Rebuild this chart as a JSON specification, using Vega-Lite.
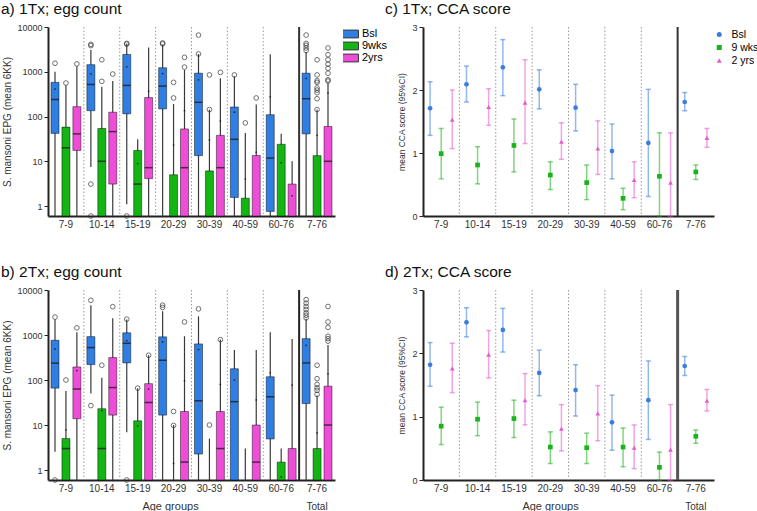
{
"$schema": "https://vega.github.io/schema/vega-lite/v6.json",
"padding": {"left": 1, "top": 1, "right": 0, "bottom": 0},
"autosize": {"type": "pad"},
"columns": 2,
"bounds": "flush",
"spacing": {"row": 74, "column": 88},
"resolve": {"scale": {"color": "independent", "shape": "independent", "xOffset": "independent"}},
"config": {
  "font": "Liberation Sans",
  "view": {"stroke": null},
  "axis": {"grid": false, "domainColor": "#222", "domainWidth": 2, "tickColor": "#222", "labelColor": "#333", "titleColor": "#333", "titleFontWeight": "normal"},
  "title": {"fontSize": 15.5, "fontWeight": "normal", "anchor": "start", "color": "#111"}
},
"datasets": {
  "sepD": [{"g":"10-14"},{"g":"15-19"},{"g":"20-29"},{"g":"30-39"},{"g":"40-59"},{"g":"60-76"}],
  "sepS": [{"g":"7-76"}],
  "boxA": [
    {"g":"7-9","s":"Bsl","lo":0.6,"q1":42,"med":240,"q3":580,"hi":1000,"mean":410},
    {"g":"7-9","s":"9wks","lo":0.6,"q1":0.6,"med":20,"q3":58,"hi":500,"mean":null},
    {"g":"7-9","s":"2yrs","lo":0.6,"q1":17.5,"med":41,"q3":166,"hi":1320,"mean":null},
    {"g":"10-14","s":"Bsl","lo":7.5,"q1":135,"med":520,"q3":1440,"hi":3080,"mean":900},
    {"g":"10-14","s":"9wks","lo":0.6,"q1":0.6,"med":10,"q3":54,"hi":465,"mean":null},
    {"g":"10-14","s":"2yrs","lo":0.6,"q1":3.1,"med":46,"q3":125,"hi":620,"mean":null},
    {"g":"15-19","s":"Bsl","lo":1.1,"q1":115,"med":495,"q3":2440,"hi":4260,"mean":1290},
    {"g":"15-19","s":"9wks","lo":0.6,"q1":0.6,"med":3.1,"q3":17.5,"hi":31,"mean":8.9},
    {"g":"15-19","s":"2yrs","lo":0.6,"q1":4.1,"med":7.2,"q3":265,"hi":3470,"mean":365},
    {"g":"20-29","s":"Bsl","lo":0.6,"q1":148,"med":480,"q3":1230,"hi":4000,"mean":910},
    {"g":"20-29","s":"9wks","lo":0.6,"q1":0.6,"med":null,"q3":5.0,"hi":190,"mean":23},
    {"g":"20-29","s":"2yrs","lo":0.6,"q1":0.6,"med":7.2,"q3":53,"hi":1100,"mean":135},
    {"g":"30-39","s":"Bsl","lo":0.6,"q1":13.4,"med":208,"q3":930,"hi":2500,"mean":660},
    {"g":"30-39","s":"9wks","lo":0.6,"q1":0.6,"med":null,"q3":6.1,"hi":143,"mean":30},
    {"g":"30-39","s":"2yrs","lo":0.6,"q1":0.6,"med":7.2,"q3":38,"hi":720,"mean":79},
    {"g":"40-59","s":"Bsl","lo":0.6,"q1":1.56,"med":31,"q3":163,"hi":790,"mean":125},
    {"g":"40-59","s":"9wks","lo":0.6,"q1":0.6,"med":null,"q3":1.5,"hi":43,"mean":4},
    {"g":"40-59","s":"2yrs","lo":0.6,"q1":0.6,"med":null,"q3":13.5,"hi":185,"mean":16},
    {"g":"60-76","s":"Bsl","lo":0.6,"q1":0.76,"med":11.8,"q3":110,"hi":2470,"mean":275},
    {"g":"60-76","s":"9wks","lo":0.6,"q1":0.6,"med":null,"q3":24,"hi":41,"mean":9.3},
    {"g":"60-76","s":"2yrs","lo":0.6,"q1":0.6,"med":null,"q3":3.1,"hi":10,"mean":1.7},
    {"g":"7-76","s":"Bsl","lo":0.6,"q1":41,"med":250,"q3":930,"hi":2780,"mean":710},
    {"g":"7-76","s":"9wks","lo":0.6,"q1":0.6,"med":null,"q3":13.4,"hi":143,"mean":38},
    {"g":"7-76","s":"2yrs","lo":0.6,"q1":0.6,"med":10,"q3":60,"hi":560,"mean":335}
  ],
  "outA": [
    {"g":"7-9","s":"Bsl","v":1550},{"g":"7-9","s":"9wks","v":560},{"g":"7-9","s":"2yrs","v":1500},
    {"g":"10-14","s":"Bsl","v":4100},{"g":"10-14","s":"Bsl","v":3840},{"g":"10-14","s":"Bsl","v":3.1},{"g":"10-14","s":"Bsl","v":0.6},
    {"g":"10-14","s":"9wks","v":610},{"g":"10-14","s":"9wks","v":1850},{"g":"10-14","s":"2yrs","v":890},
    {"g":"15-19","s":"Bsl","v":4300},{"g":"15-19","s":"Bsl","v":4150},{"g":"15-19","s":"Bsl","v":0.6},
    {"g":"20-29","s":"Bsl","v":4400},{"g":"20-29","s":"Bsl","v":4200},{"g":"20-29","s":"9wks","v":260},{"g":"20-29","s":"9wks","v":580},
    {"g":"20-29","s":"2yrs","v":1270},{"g":"20-29","s":"2yrs","v":2100},
    {"g":"30-39","s":"Bsl","v":2500},{"g":"30-39","s":"Bsl","v":6600},{"g":"30-39","s":"9wks","v":143},{"g":"30-39","s":"9wks","v":850},{"g":"30-39","s":"2yrs","v":970},
    {"g":"40-59","s":"Bsl","v":850},{"g":"40-59","s":"9wks","v":72},{"g":"40-59","s":"2yrs","v":260},
    {"g":"7-76","s":"Bsl","v":6600},{"g":"7-76","s":"Bsl","v":4300},{"g":"7-76","s":"Bsl","v":3900},{"g":"7-76","s":"Bsl","v":3400},{"g":"7-76","s":"Bsl","v":3000},
    {"g":"7-76","s":"9wks","v":143},{"g":"7-76","s":"9wks","v":250},{"g":"7-76","s":"9wks","v":340},{"g":"7-76","s":"9wks","v":390},{"g":"7-76","s":"9wks","v":435},{"g":"7-76","s":"9wks","v":580},{"g":"7-76","s":"9wks","v":630},{"g":"7-76","s":"9wks","v":850},{"g":"7-76","s":"9wks","v":1850},
    {"g":"7-76","s":"2yrs","v":660},{"g":"7-76","s":"2yrs","v":620},{"g":"7-76","s":"2yrs","v":930},{"g":"7-76","s":"2yrs","v":1200},{"g":"7-76","s":"2yrs","v":1480},{"g":"7-76","s":"2yrs","v":1850},{"g":"7-76","s":"2yrs","v":2400},{"g":"7-76","s":"2yrs","v":3400}
  ],
  "boxB": [
    {"g":"7-9","s":"Bsl","lo":2.55,"q1":66,"med":237,"q3":765,"hi":2200,"mean":490},
    {"g":"7-9","s":"9wks","lo":0.6,"q1":0.6,"med":3.0,"q3":5,"hi":57,"mean":7.8},
    {"g":"7-9","s":"2yrs","lo":0.6,"q1":13.8,"med":63,"q3":195,"hi":1150,"mean":162},
    {"g":"10-14","s":"Bsl","lo":50,"q1":220,"med":525,"q3":920,"hi":4600,"mean":null},
    {"g":"10-14","s":"9wks","lo":0.6,"q1":0.6,"med":3.0,"q3":23,"hi":112,"mean":21},
    {"g":"10-14","s":"2yrs","lo":0.6,"q1":16.6,"med":68,"q3":315,"hi":2350,"mean":null},
    {"g":"15-19","s":"Bsl","lo":6.9,"q1":240,"med":655,"q3":1120,"hi":2200,"mean":750},
    {"g":"15-19","s":"9wks","lo":0.6,"q1":0.6,"med":null,"q3":12.4,"hi":66,"mean":9.5},
    {"g":"15-19","s":"2yrs","lo":0.6,"q1":0.6,"med":31.7,"q3":83,"hi":355,"mean":63},
    {"g":"20-29","s":"Bsl","lo":0.6,"q1":16.6,"med":275,"q3":910,"hi":3380,"mean":700},
    {"g":"20-29","s":"9wks","lo":0.6,"q1":null,"med":null,"q3":null,"hi":10,"mean":1.4},
    {"g":"20-29","s":"2yrs","lo":0.6,"q1":0.6,"med":1.5,"q3":20,"hi":940,"mean":96},
    {"g":"30-39","s":"Bsl","lo":0.6,"q1":2.26,"med":34.6,"q3":635,"hi":2600,"mean":475},
    {"g":"30-39","s":"9wks","lo":0.6,"q1":null,"med":null,"q3":null,"hi":5,"mean":null},
    {"g":"30-39","s":"2yrs","lo":0.6,"q1":0.6,"med":3.0,"q3":20,"hi":790,"mean":80},
    {"g":"40-59","s":"Bsl","lo":0.6,"q1":0.6,"med":33,"q3":178,"hi":465,"mean":100},
    {"g":"40-59","s":"9wks","lo":0.6,"q1":null,"med":null,"q3":null,"hi":3,"mean":null},
    {"g":"40-59","s":"2yrs","lo":0.6,"q1":0.6,"med":1.5,"q3":10,"hi":465,"mean":36},
    {"g":"60-76","s":"Bsl","lo":0.6,"q1":4.9,"med":42.5,"q3":118,"hi":1150,"mean":145},
    {"g":"60-76","s":"9wks","lo":0.6,"q1":0.6,"med":null,"q3":1.5,"hi":3.0,"mean":0.7},
    {"g":"60-76","s":"2yrs","lo":0.6,"q1":0.6,"med":null,"q3":3.0,"hi":820,"mean":77},
    {"g":"7-76","s":"Bsl","lo":0.6,"q1":30,"med":240,"q3":830,"hi":2300,"mean":590},
    {"g":"7-76","s":"9wks","lo":0.6,"q1":0.6,"med":null,"q3":3,"hi":45,"mean":6.7},
    {"g":"7-76","s":"2yrs","lo":0.6,"q1":0.6,"med":10,"q3":73,"hi":600,"mean":137}
  ],
  "outB": [
    {"g":"7-9","s":"Bsl","v":2500},{"g":"7-9","s":"Bsl","v":0.6},{"g":"7-9","s":"9wks","v":100},{"g":"7-9","s":"2yrs","v":1440},
    {"g":"10-14","s":"Bsl","v":5900},{"g":"10-14","s":"Bsl","v":27},{"g":"10-14","s":"9wks","v":213},{"g":"10-14","s":"2yrs","v":4260},
    {"g":"15-19","s":"Bsl","v":2250},{"g":"15-19","s":"Bsl","v":0.6},{"g":"15-19","s":"9wks","v":66},{"g":"15-19","s":"2yrs","v":355},
    {"g":"20-29","s":"Bsl","v":4600},{"g":"20-29","s":"Bsl","v":4100},{"g":"20-29","s":"9wks","v":20},{"g":"20-29","s":"9wks","v":9.8},{"g":"20-29","s":"2yrs","v":1950},
    {"g":"30-39","s":"Bsl","v":3800},{"g":"30-39","s":"9wks","v":10},{"g":"30-39","s":"2yrs","v":790},
    {"g":"7-76","s":"Bsl","v":6100},{"g":"7-76","s":"Bsl","v":5100},{"g":"7-76","s":"Bsl","v":4300},{"g":"7-76","s":"Bsl","v":3700},{"g":"7-76","s":"Bsl","v":3100},{"g":"7-76","s":"Bsl","v":2750},{"g":"7-76","s":"Bsl","v":2400},
    {"g":"7-76","s":"9wks","v":213},{"g":"7-76","s":"9wks","v":107},{"g":"7-76","s":"9wks","v":80},{"g":"7-76","s":"9wks","v":67},{"g":"7-76","s":"9wks","v":59},{"g":"7-76","s":"9wks","v":48},
    {"g":"7-76","s":"2yrs","v":4300},{"g":"7-76","s":"2yrs","v":1950},{"g":"7-76","s":"2yrs","v":1480},{"g":"7-76","s":"2yrs","v":940},{"g":"7-76","s":"2yrs","v":830},{"g":"7-76","s":"2yrs","v":730}
  ],
  "ccaC": [
    {"g":"7-9","s":"Bsl","m":1.71,"lo":1.28,"hi":2.13},{"g":"7-9","s":"9 wks","m":0.99,"lo":0.59,"hi":1.39},{"g":"7-9","s":"2 yrs","m":1.53,"lo":1.07,"hi":2.0},
    {"g":"10-14","s":"Bsl","m":2.09,"lo":1.81,"hi":2.38},{"g":"10-14","s":"9 wks","m":0.81,"lo":0.51,"hi":1.1},{"g":"10-14","s":"2 yrs","m":1.73,"lo":1.44,"hi":2.02},
    {"g":"15-19","s":"Bsl","m":2.36,"lo":1.91,"hi":2.8},{"g":"15-19","s":"9 wks","m":1.12,"lo":0.7,"hi":1.54},{"g":"15-19","s":"2 yrs","m":1.8,"lo":1.15,"hi":2.48},
    {"g":"20-29","s":"Bsl","m":2.01,"lo":1.7,"hi":2.32},{"g":"20-29","s":"9 wks","m":0.65,"lo":0.42,"hi":0.86},{"g":"20-29","s":"2 yrs","m":1.18,"lo":0.9,"hi":1.48},
    {"g":"30-39","s":"Bsl","m":1.72,"lo":1.35,"hi":2.09},{"g":"30-39","s":"9 wks","m":0.53,"lo":0.26,"hi":0.81},{"g":"30-39","s":"2 yrs","m":1.07,"lo":0.66,"hi":1.51},
    {"g":"40-59","s":"Bsl","m":1.03,"lo":0.59,"hi":1.46},{"g":"40-59","s":"9 wks","m":0.28,"lo":0.1,"hi":0.44},{"g":"40-59","s":"2 yrs","m":0.57,"lo":0.29,"hi":0.86},
    {"g":"60-76","s":"Bsl","m":1.16,"lo":0.31,"hi":2.01},{"g":"60-76","s":"9 wks","m":0.63,"lo":0,"hi":1.32},{"g":"60-76","s":"2 yrs","m":0.53,"lo":0,"hi":1.32},
    {"g":"7-76","s":"Bsl","m":1.81,"lo":1.67,"hi":1.96},{"g":"7-76","s":"9 wks","m":0.7,"lo":0.58,"hi":0.81},{"g":"7-76","s":"2 yrs","m":1.24,"lo":1.09,"hi":1.39}
  ],
  "ccaD": [
    {"g":"7-9","s":"Bsl","m":1.82,"lo":1.48,"hi":2.17},{"g":"7-9","s":"9 wks","m":0.85,"lo":0.56,"hi":1.15},{"g":"7-9","s":"2 yrs","m":1.76,"lo":1.38,"hi":2.16},
    {"g":"10-14","s":"Bsl","m":2.49,"lo":2.26,"hi":2.72},{"g":"10-14","s":"9 wks","m":0.96,"lo":0.7,"hi":1.23},{"g":"10-14","s":"2 yrs","m":1.98,"lo":1.61,"hi":2.36},
    {"g":"15-19","s":"Bsl","m":2.37,"lo":2.02,"hi":2.71},{"g":"15-19","s":"9 wks","m":0.97,"lo":0.67,"hi":1.26},{"g":"15-19","s":"2 yrs","m":1.26,"lo":0.87,"hi":1.68},
    {"g":"20-29","s":"Bsl","m":1.69,"lo":1.33,"hi":2.05},{"g":"20-29","s":"9 wks","m":0.52,"lo":0.26,"hi":0.76},{"g":"20-29","s":"2 yrs","m":0.81,"lo":0.46,"hi":1.19},
    {"g":"30-39","s":"Bsl","m":1.42,"lo":1.01,"hi":1.82},{"g":"30-39","s":"9 wks","m":0.51,"lo":0.26,"hi":0.74},{"g":"30-39","s":"2 yrs","m":1.05,"lo":0.62,"hi":1.49},
    {"g":"40-59","s":"Bsl","m":0.91,"lo":0.47,"hi":1.34},{"g":"40-59","s":"9 wks","m":0.52,"lo":0.21,"hi":0.82},{"g":"40-59","s":"2 yrs","m":0.51,"lo":0.18,"hi":0.87},
    {"g":"60-76","s":"Bsl","m":1.26,"lo":0.64,"hi":1.88},{"g":"60-76","s":"9 wks","m":0.2,"lo":0,"hi":0.44},{"g":"60-76","s":"2 yrs","m":0.48,"lo":0,"hi":1.19},
    {"g":"7-76","s":"Bsl","m":1.8,"lo":1.65,"hi":1.95},{"g":"7-76","s":"9 wks","m":0.69,"lo":0.58,"hi":0.79},{"g":"7-76","s":"2 yrs","m":1.25,"lo":1.09,"hi":1.43}
  ]
},
"concat": [
  {
    "width": 287, "height": 189,
    "title": {"text": "a) 1Tx; egg count", "frame": "group", "dx": -47, "offset": 6},
    "layer": [
      {"data": {"name": "sepD"}, "mark": {"type": "rule", "color": "#9a9a9a", "strokeDash": [1.5, 2], "strokeWidth": 1},
       "encoding": {"x": {"field": "g", "type": "nominal", "bandPosition": 0, "scale": {"domain": ["7-9","10-14","15-19","20-29","30-39","40-59","60-76","7-76"], "paddingInner": 0, "paddingOuter": 0}, "axis": {"title": null, "labelAngle": 0, "ticks": false, "labelPadding": 3, "labelFontSize": 10}}}},
      {"data": {"name": "sepS"}, "mark": {"type": "rule", "color": "#333", "strokeWidth": 2},
       "encoding": {"x": {"field": "g", "type": "nominal", "bandPosition": 0, "scale": {"domain": ["7-9","10-14","15-19","20-29","30-39","40-59","60-76","7-76"], "paddingInner": 0, "paddingOuter": 0}, "axis": {"title": null, "labelAngle": 0, "ticks": false, "labelPadding": 3, "labelFontSize": 10}}}},
      {"data": {"name": "boxA"}, "mark": {"type": "rule", "color": "#3a3a3a", "strokeWidth": 1.2},
       "encoding": {
         "x": {"field": "g", "type": "nominal", "scale": {"domain": ["7-9","10-14","15-19","20-29","30-39","40-59","60-76","7-76"], "paddingInner": 0, "paddingOuter": 0}, "axis": {"title": null, "labelAngle": 0, "ticks": false, "labelPadding": 3, "labelFontSize": 10}},
         "xOffset": {"field": "s", "type": "nominal", "scale": {"domain": ["Bsl","9wks","2yrs"], "paddingInner": 0, "paddingOuter": 0.14}},
         "y": {"field": "lo", "type": "quantitative", "scale": {"type": "log", "domain": [0.6, 10000], "nice": false}, "title": "S. mansoni EPG (mean 6KK)", "axis": {"values": [1, 10, 100, 1000, 10000], "format": "d", "tickSize": 4, "labelFontSize": 9, "titleFontSize": 10, "titlePadding": 4, "labelPadding": 2}},
         "y2": {"field": "hi"}}},
      {"data": {"name": "boxA"}, "mark": {"type": "bar", "width": 8, "stroke": "#000", "strokeOpacity": 0.45, "strokeWidth": 1},
       "encoding": {
         "x": {"field": "g", "type": "nominal", "scale": {"domain": ["7-9","10-14","15-19","20-29","30-39","40-59","60-76","7-76"], "paddingInner": 0, "paddingOuter": 0}, "axis": {"title": null, "labelAngle": 0, "ticks": false, "labelPadding": 3, "labelFontSize": 10}},
         "xOffset": {"field": "s", "type": "nominal", "scale": {"domain": ["Bsl","9wks","2yrs"], "paddingInner": 0, "paddingOuter": 0.14}},
         "y": {"field": "q1", "type": "quantitative", "title": "S. mansoni EPG (mean 6KK)"},
         "y2": {"field": "q3"},
         "color": {"field": "s", "type": "nominal", "scale": {"domain": ["Bsl","9wks","2yrs"], "range": ["#2f7ee3","#14b414","#ef4cd8"]},
                   "legend": {"title": null, "orient": "none", "legendX": 295, "legendY": 1, "labelFontSize": 11, "symbolType": "M-1.3,-0.6H1.3V0.6H-1.3Z", "symbolSize": 169, "symbolStrokeColor": "#333", "symbolStrokeWidth": 1, "clipHeight": 12, "rowPadding": 0, "labelOffset": 5}}}},
      {"data": {"name": "boxA"}, "mark": {"type": "tick", "size": 8, "thickness": 1.5, "color": "#1a1a1a", "opacity": 0.75},
       "encoding": {
         "x": {"field": "g", "type": "nominal", "scale": {"domain": ["7-9","10-14","15-19","20-29","30-39","40-59","60-76","7-76"], "paddingInner": 0, "paddingOuter": 0}, "axis": {"title": null, "labelAngle": 0, "ticks": false, "labelPadding": 3, "labelFontSize": 10}},
         "xOffset": {"field": "s", "type": "nominal", "scale": {"domain": ["Bsl","9wks","2yrs"], "paddingInner": 0, "paddingOuter": 0.14}},
         "y": {"field": "med", "type": "quantitative", "title": "S. mansoni EPG (mean 6KK)"}}},
      {"data": {"name": "boxA"}, "mark": {"type": "point", "filled": true, "size": 3, "color": "#111", "opacity": 0.8},
       "encoding": {
         "x": {"field": "g", "type": "nominal", "scale": {"domain": ["7-9","10-14","15-19","20-29","30-39","40-59","60-76","7-76"], "paddingInner": 0, "paddingOuter": 0}, "axis": {"title": null, "labelAngle": 0, "ticks": false, "labelPadding": 3, "labelFontSize": 10}},
         "xOffset": {"field": "s", "type": "nominal", "scale": {"domain": ["Bsl","9wks","2yrs"], "paddingInner": 0, "paddingOuter": 0.14}},
         "y": {"field": "mean", "type": "quantitative", "title": "S. mansoni EPG (mean 6KK)"}}},
      {"data": {"name": "outA"}, "mark": {"type": "point", "filled": false, "size": 22, "color": "#333", "strokeWidth": 1},
       "encoding": {
         "x": {"field": "g", "type": "nominal", "scale": {"domain": ["7-9","10-14","15-19","20-29","30-39","40-59","60-76","7-76"], "paddingInner": 0, "paddingOuter": 0}, "axis": {"title": null, "labelAngle": 0, "ticks": false, "labelPadding": 3, "labelFontSize": 10}},
         "xOffset": {"field": "s", "type": "nominal", "scale": {"domain": ["Bsl","9wks","2yrs"], "paddingInner": 0, "paddingOuter": 0.14}},
         "y": {"field": "v", "type": "quantitative", "title": "S. mansoni EPG (mean 6KK)"}}}
    ]
  },
  {
    "width": 291, "height": 189,
    "title": {"text": "c) 1Tx; CCA score", "frame": "group", "dx": -38, "offset": 6},
    "layer": [
      {"data": {"name": "sepD"}, "mark": {"type": "rule", "color": "#9a9a9a", "strokeDash": [1.5, 2], "strokeWidth": 1},
       "encoding": {"x": {"field": "g", "type": "nominal", "bandPosition": 0, "scale": {"domain": ["7-9","10-14","15-19","20-29","30-39","40-59","60-76","7-76"], "paddingInner": 0, "paddingOuter": 0}, "axis": {"title": null, "labelAngle": 0, "ticks": false, "labelPadding": 3, "labelFontSize": 10}}}},
      {"data": {"name": "sepS"}, "mark": {"type": "rule", "color": "#333", "strokeWidth": 2},
       "encoding": {"x": {"field": "g", "type": "nominal", "bandPosition": 0, "scale": {"domain": ["7-9","10-14","15-19","20-29","30-39","40-59","60-76","7-76"], "paddingInner": 0, "paddingOuter": 0}, "axis": {"title": null, "labelAngle": 0, "ticks": false, "labelPadding": 3, "labelFontSize": 10}}}},
      {"data": {"name": "ccaC"}, "mark": {"type": "rule", "strokeWidth": 1.5, "opacity": 0.55},
       "encoding": {
         "x": {"field": "g", "type": "nominal", "scale": {"domain": ["7-9","10-14","15-19","20-29","30-39","40-59","60-76","7-76"], "paddingInner": 0, "paddingOuter": 0}, "axis": {"title": null, "labelAngle": 0, "ticks": false, "labelPadding": 3, "labelFontSize": 10}},
         "xOffset": {"field": "s", "type": "nominal", "scale": {"domain": ["Bsl","9 wks","2 yrs"], "paddingInner": 0, "paddingOuter": 0.14}},
         "y": {"field": "lo", "type": "quantitative", "scale": {"domain": [0, 3], "nice": false}, "title": "mean CCA score (95%CI)", "axis": {"values": [0, 1, 2, 3], "format": "d", "tickSize": 4, "labelFontSize": 9, "titleFontSize": 8.5, "titlePadding": 5, "labelPadding": 2}},
         "y2": {"field": "hi"},
         "color": {"field": "s", "type": "nominal", "scale": {"domain": ["Bsl","9 wks","2 yrs"], "range": ["#3a7ddc","#1bb31b","#e35bcb"]}, "legend": {"title": null, "orient": "none", "legendX": 291, "legendY": 1, "labelFontSize": 10.5, "symbolSize": 25, "symbolOpacity": 1, "symbolStrokeWidth": 0, "clipHeight": 13, "rowPadding": 0, "labelOffset": 7}}}},
      {"data": {"name": "ccaC"}, "mark": {"type": "tick", "size": 5, "thickness": 1.5, "opacity": 0.55},
       "encoding": {
         "x": {"field": "g", "type": "nominal", "scale": {"domain": ["7-9","10-14","15-19","20-29","30-39","40-59","60-76","7-76"], "paddingInner": 0, "paddingOuter": 0}, "axis": {"title": null, "labelAngle": 0, "ticks": false, "labelPadding": 3, "labelFontSize": 10}},
         "xOffset": {"field": "s", "type": "nominal", "scale": {"domain": ["Bsl","9 wks","2 yrs"], "paddingInner": 0, "paddingOuter": 0.14}},
         "y": {"field": "lo", "type": "quantitative", "title": "mean CCA score (95%CI)"},
         "color": {"field": "s", "type": "nominal", "legend": {"title": null, "orient": "none", "legendX": 291, "legendY": 1, "labelFontSize": 10.5, "symbolSize": 25, "symbolOpacity": 1, "symbolStrokeWidth": 0, "clipHeight": 13, "rowPadding": 0, "labelOffset": 7}}}},
      {"data": {"name": "ccaC"}, "mark": {"type": "tick", "size": 5, "thickness": 1.5, "opacity": 0.55},
       "encoding": {
         "x": {"field": "g", "type": "nominal", "scale": {"domain": ["7-9","10-14","15-19","20-29","30-39","40-59","60-76","7-76"], "paddingInner": 0, "paddingOuter": 0}, "axis": {"title": null, "labelAngle": 0, "ticks": false, "labelPadding": 3, "labelFontSize": 10}},
         "xOffset": {"field": "s", "type": "nominal", "scale": {"domain": ["Bsl","9 wks","2 yrs"], "paddingInner": 0, "paddingOuter": 0.14}},
         "y": {"field": "hi", "type": "quantitative", "title": "mean CCA score (95%CI)"},
         "color": {"field": "s", "type": "nominal", "legend": {"title": null, "orient": "none", "legendX": 291, "legendY": 1, "labelFontSize": 10.5, "symbolSize": 25, "symbolOpacity": 1, "symbolStrokeWidth": 0, "clipHeight": 13, "rowPadding": 0, "labelOffset": 7}}}},
      {"data": {"name": "ccaC"}, "mark": {"type": "point", "filled": true, "size": 22, "opacity": 1},
       "encoding": {
         "x": {"field": "g", "type": "nominal", "scale": {"domain": ["7-9","10-14","15-19","20-29","30-39","40-59","60-76","7-76"], "paddingInner": 0, "paddingOuter": 0}, "axis": {"title": null, "labelAngle": 0, "ticks": false, "labelPadding": 3, "labelFontSize": 10}},
         "xOffset": {"field": "s", "type": "nominal", "scale": {"domain": ["Bsl","9 wks","2 yrs"], "paddingInner": 0, "paddingOuter": 0.14}},
         "y": {"field": "m", "type": "quantitative", "title": "mean CCA score (95%CI)"},
         "color": {"field": "s", "type": "nominal", "legend": {"title": null, "orient": "none", "legendX": 291, "legendY": 1, "labelFontSize": 10.5, "symbolSize": 25, "symbolOpacity": 1, "symbolStrokeWidth": 0, "clipHeight": 13, "rowPadding": 0, "labelOffset": 7}},
         "shape": {"field": "s", "type": "nominal", "scale": {"domain": ["Bsl","9 wks","2 yrs"], "range": ["circle","square","triangle-up"]}, "legend": {"title": null, "orient": "none", "legendX": 291, "legendY": 1, "labelFontSize": 10.5, "symbolSize": 25, "symbolOpacity": 1, "symbolStrokeWidth": 0, "clipHeight": 13, "rowPadding": 0, "labelOffset": 7}}}}
    ]
  },
  {
    "width": 287, "height": 190,
    "title": {"text": "b) 2Tx; egg count", "frame": "group", "dx": -47, "offset": 6},
    "layer": [
      {"data": {"name": "sepD"}, "mark": {"type": "rule", "color": "#9a9a9a", "strokeDash": [1.5, 2], "strokeWidth": 1},
       "encoding": {"x": {"field": "g", "type": "nominal", "bandPosition": 0, "scale": {"domain": ["7-9","10-14","15-19","20-29","30-39","40-59","60-76","7-76"], "paddingInner": 0, "paddingOuter": 0}, "axis": {"title": "Age groups", "titleFontSize": 11, "titleX": 122, "titleY": 20, "labelAngle": 0, "ticks": false, "labelPadding": 3, "labelFontSize": 10, "labelLineHeight": 18, "labelExpr": "datum.value == '7-76' ? ['7-76', 'Total'] : datum.value"}}}},
      {"data": {"name": "sepS"}, "mark": {"type": "rule", "color": "#222", "strokeWidth": 2},
       "encoding": {"x": {"field": "g", "type": "nominal", "bandPosition": 0, "scale": {"domain": ["7-9","10-14","15-19","20-29","30-39","40-59","60-76","7-76"], "paddingInner": 0, "paddingOuter": 0}, "axis": {"title": "Age groups", "titleFontSize": 11, "titleX": 122, "titleY": 20, "labelAngle": 0, "ticks": false, "labelPadding": 3, "labelFontSize": 10, "labelLineHeight": 18, "labelExpr": "datum.value == '7-76' ? ['7-76', 'Total'] : datum.value"}}}},
      {"data": {"name": "boxB"}, "mark": {"type": "rule", "color": "#3a3a3a", "strokeWidth": 1.2},
       "encoding": {
         "x": {"field": "g", "type": "nominal", "scale": {"domain": ["7-9","10-14","15-19","20-29","30-39","40-59","60-76","7-76"], "paddingInner": 0, "paddingOuter": 0}, "axis": {"title": "Age groups", "titleFontSize": 11, "titleX": 122, "titleY": 20, "labelAngle": 0, "ticks": false, "labelPadding": 3, "labelFontSize": 10, "labelLineHeight": 18, "labelExpr": "datum.value == '7-76' ? ['7-76', 'Total'] : datum.value"}},
         "xOffset": {"field": "s", "type": "nominal", "scale": {"domain": ["Bsl","9wks","2yrs"], "paddingInner": 0, "paddingOuter": 0.14}},
         "y": {"field": "lo", "type": "quantitative", "scale": {"type": "log", "domain": [0.6, 10000], "nice": false}, "title": "S. mansoni EPG (mean 6KK)", "axis": {"values": [1, 10, 100, 1000, 10000], "format": "d", "tickSize": 4, "labelFontSize": 9, "titleFontSize": 10, "titlePadding": 4, "labelPadding": 2}},
         "y2": {"field": "hi"}}},
      {"data": {"name": "boxB"}, "mark": {"type": "bar", "width": 8, "stroke": "#000", "strokeOpacity": 0.45, "strokeWidth": 1},
       "encoding": {
         "x": {"field": "g", "type": "nominal", "scale": {"domain": ["7-9","10-14","15-19","20-29","30-39","40-59","60-76","7-76"], "paddingInner": 0, "paddingOuter": 0}, "axis": {"title": "Age groups", "titleFontSize": 11, "titleX": 122, "titleY": 20, "labelAngle": 0, "ticks": false, "labelPadding": 3, "labelFontSize": 10, "labelLineHeight": 18, "labelExpr": "datum.value == '7-76' ? ['7-76', 'Total'] : datum.value"}},
         "xOffset": {"field": "s", "type": "nominal", "scale": {"domain": ["Bsl","9wks","2yrs"], "paddingInner": 0, "paddingOuter": 0.14}},
         "y": {"field": "q1", "type": "quantitative", "title": "S. mansoni EPG (mean 6KK)"},
         "y2": {"field": "q3"},
         "color": {"field": "s", "type": "nominal", "scale": {"domain": ["Bsl","9wks","2yrs"], "range": ["#2f7ee3","#14b414","#ef4cd8"]}, "legend": null}}},
      {"data": {"name": "boxB"}, "mark": {"type": "tick", "size": 8, "thickness": 1.5, "color": "#1a1a1a", "opacity": 0.75},
       "encoding": {
         "x": {"field": "g", "type": "nominal", "scale": {"domain": ["7-9","10-14","15-19","20-29","30-39","40-59","60-76","7-76"], "paddingInner": 0, "paddingOuter": 0}, "axis": {"title": "Age groups", "titleFontSize": 11, "titleX": 122, "titleY": 20, "labelAngle": 0, "ticks": false, "labelPadding": 3, "labelFontSize": 10, "labelLineHeight": 18, "labelExpr": "datum.value == '7-76' ? ['7-76', 'Total'] : datum.value"}},
         "xOffset": {"field": "s", "type": "nominal", "scale": {"domain": ["Bsl","9wks","2yrs"], "paddingInner": 0, "paddingOuter": 0.14}},
         "y": {"field": "med", "type": "quantitative", "title": "S. mansoni EPG (mean 6KK)"}}},
      {"data": {"name": "boxB"}, "mark": {"type": "point", "filled": true, "size": 3, "color": "#111", "opacity": 0.8},
       "encoding": {
         "x": {"field": "g", "type": "nominal", "scale": {"domain": ["7-9","10-14","15-19","20-29","30-39","40-59","60-76","7-76"], "paddingInner": 0, "paddingOuter": 0}, "axis": {"title": "Age groups", "titleFontSize": 11, "titleX": 122, "titleY": 20, "labelAngle": 0, "ticks": false, "labelPadding": 3, "labelFontSize": 10, "labelLineHeight": 18, "labelExpr": "datum.value == '7-76' ? ['7-76', 'Total'] : datum.value"}},
         "xOffset": {"field": "s", "type": "nominal", "scale": {"domain": ["Bsl","9wks","2yrs"], "paddingInner": 0, "paddingOuter": 0.14}},
         "y": {"field": "mean", "type": "quantitative", "title": "S. mansoni EPG (mean 6KK)"}}},
      {"data": {"name": "outB"}, "mark": {"type": "point", "filled": false, "size": 22, "color": "#333", "strokeWidth": 1},
       "encoding": {
         "x": {"field": "g", "type": "nominal", "scale": {"domain": ["7-9","10-14","15-19","20-29","30-39","40-59","60-76","7-76"], "paddingInner": 0, "paddingOuter": 0}, "axis": {"title": "Age groups", "titleFontSize": 11, "titleX": 122, "titleY": 20, "labelAngle": 0, "ticks": false, "labelPadding": 3, "labelFontSize": 10, "labelLineHeight": 18, "labelExpr": "datum.value == '7-76' ? ['7-76', 'Total'] : datum.value"}},
         "xOffset": {"field": "s", "type": "nominal", "scale": {"domain": ["Bsl","9wks","2yrs"], "paddingInner": 0, "paddingOuter": 0.14}},
         "y": {"field": "v", "type": "quantitative", "title": "S. mansoni EPG (mean 6KK)"}}}
    ]
  },
  {
    "width": 291, "height": 190,
    "title": {"text": "d) 2Tx; CCA score", "frame": "group", "dx": -38, "offset": 6},
    "layer": [
      {"data": {"name": "sepD"}, "mark": {"type": "rule", "color": "#9a9a9a", "strokeDash": [1.5, 2], "strokeWidth": 1},
       "encoding": {"x": {"field": "g", "type": "nominal", "bandPosition": 0, "scale": {"domain": ["7-9","10-14","15-19","20-29","30-39","40-59","60-76","7-76"], "paddingInner": 0, "paddingOuter": 0}, "axis": {"title": "Age groups", "titleFontSize": 11, "titleX": 127, "titleY": 20, "labelAngle": 0, "ticks": false, "labelPadding": 3, "labelFontSize": 10, "labelLineHeight": 18, "labelExpr": "datum.value == '7-76' ? ['7-76', 'Total'] : datum.value"}}}},
      {"data": {"name": "sepS"}, "mark": {"type": "rule", "color": "#555", "strokeWidth": 3},
       "encoding": {"x": {"field": "g", "type": "nominal", "bandPosition": 0, "scale": {"domain": ["7-9","10-14","15-19","20-29","30-39","40-59","60-76","7-76"], "paddingInner": 0, "paddingOuter": 0}, "axis": {"title": "Age groups", "titleFontSize": 11, "titleX": 127, "titleY": 20, "labelAngle": 0, "ticks": false, "labelPadding": 3, "labelFontSize": 10, "labelLineHeight": 18, "labelExpr": "datum.value == '7-76' ? ['7-76', 'Total'] : datum.value"}}}},
      {"data": {"name": "ccaD"}, "mark": {"type": "rule", "strokeWidth": 1.5, "opacity": 0.55},
       "encoding": {
         "x": {"field": "g", "type": "nominal", "scale": {"domain": ["7-9","10-14","15-19","20-29","30-39","40-59","60-76","7-76"], "paddingInner": 0, "paddingOuter": 0}, "axis": {"title": "Age groups", "titleFontSize": 11, "titleX": 127, "titleY": 20, "labelAngle": 0, "ticks": false, "labelPadding": 3, "labelFontSize": 10, "labelLineHeight": 18, "labelExpr": "datum.value == '7-76' ? ['7-76', 'Total'] : datum.value"}},
         "xOffset": {"field": "s", "type": "nominal", "scale": {"domain": ["Bsl","9 wks","2 yrs"], "paddingInner": 0, "paddingOuter": 0.14}},
         "y": {"field": "lo", "type": "quantitative", "scale": {"domain": [0, 3], "nice": false}, "title": "mean CCA score (95%CI)", "axis": {"values": [0, 1, 2, 3], "format": "d", "tickSize": 4, "labelFontSize": 9, "titleFontSize": 8.5, "titlePadding": 5, "labelPadding": 2}},
         "y2": {"field": "hi"},
         "color": {"field": "s", "type": "nominal", "scale": {"domain": ["Bsl","9 wks","2 yrs"], "range": ["#3a7ddc","#1bb31b","#e35bcb"]}, "legend": null}}},
      {"data": {"name": "ccaD"}, "mark": {"type": "tick", "size": 5, "thickness": 1.5, "opacity": 0.55},
       "encoding": {
         "x": {"field": "g", "type": "nominal", "scale": {"domain": ["7-9","10-14","15-19","20-29","30-39","40-59","60-76","7-76"], "paddingInner": 0, "paddingOuter": 0}, "axis": {"title": "Age groups", "titleFontSize": 11, "titleX": 127, "titleY": 20, "labelAngle": 0, "ticks": false, "labelPadding": 3, "labelFontSize": 10, "labelLineHeight": 18, "labelExpr": "datum.value == '7-76' ? ['7-76', 'Total'] : datum.value"}},
         "xOffset": {"field": "s", "type": "nominal", "scale": {"domain": ["Bsl","9 wks","2 yrs"], "paddingInner": 0, "paddingOuter": 0.14}},
         "y": {"field": "lo", "type": "quantitative", "title": "mean CCA score (95%CI)"},
         "color": {"field": "s", "type": "nominal", "legend": null}}},
      {"data": {"name": "ccaD"}, "mark": {"type": "tick", "size": 5, "thickness": 1.5, "opacity": 0.55},
       "encoding": {
         "x": {"field": "g", "type": "nominal", "scale": {"domain": ["7-9","10-14","15-19","20-29","30-39","40-59","60-76","7-76"], "paddingInner": 0, "paddingOuter": 0}, "axis": {"title": "Age groups", "titleFontSize": 11, "titleX": 127, "titleY": 20, "labelAngle": 0, "ticks": false, "labelPadding": 3, "labelFontSize": 10, "labelLineHeight": 18, "labelExpr": "datum.value == '7-76' ? ['7-76', 'Total'] : datum.value"}},
         "xOffset": {"field": "s", "type": "nominal", "scale": {"domain": ["Bsl","9 wks","2 yrs"], "paddingInner": 0, "paddingOuter": 0.14}},
         "y": {"field": "hi", "type": "quantitative", "title": "mean CCA score (95%CI)"},
         "color": {"field": "s", "type": "nominal", "legend": null}}},
      {"data": {"name": "ccaD"}, "mark": {"type": "point", "filled": true, "size": 22, "opacity": 1},
       "encoding": {
         "x": {"field": "g", "type": "nominal", "scale": {"domain": ["7-9","10-14","15-19","20-29","30-39","40-59","60-76","7-76"], "paddingInner": 0, "paddingOuter": 0}, "axis": {"title": "Age groups", "titleFontSize": 11, "titleX": 127, "titleY": 20, "labelAngle": 0, "ticks": false, "labelPadding": 3, "labelFontSize": 10, "labelLineHeight": 18, "labelExpr": "datum.value == '7-76' ? ['7-76', 'Total'] : datum.value"}},
         "xOffset": {"field": "s", "type": "nominal", "scale": {"domain": ["Bsl","9 wks","2 yrs"], "paddingInner": 0, "paddingOuter": 0.14}},
         "y": {"field": "m", "type": "quantitative", "title": "mean CCA score (95%CI)"},
         "color": {"field": "s", "type": "nominal", "legend": null},
         "shape": {"field": "s", "type": "nominal", "scale": {"domain": ["Bsl","9 wks","2 yrs"], "range": ["circle","square","triangle-up"]}, "legend": null}}}
    ]
  }
]
}
